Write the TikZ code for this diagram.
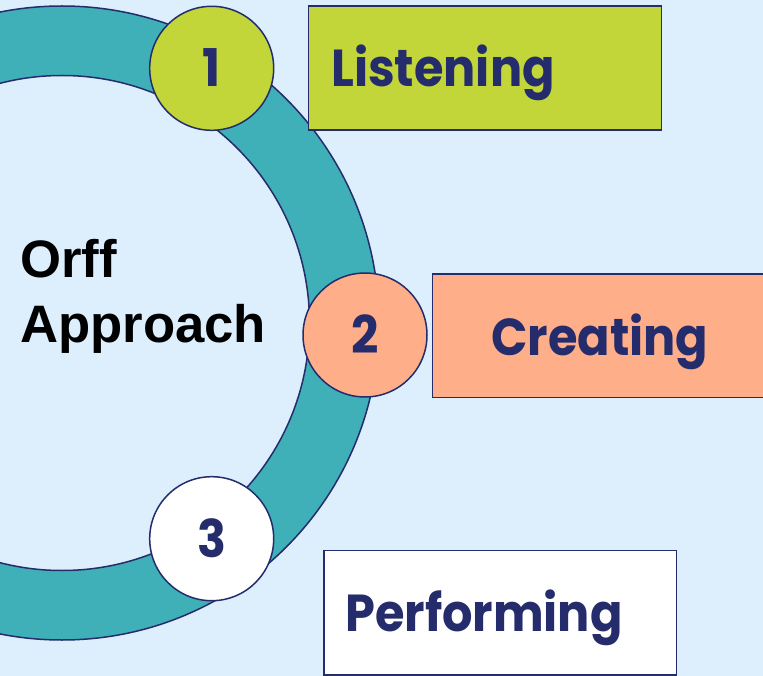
\documentclass[tikz,border=0pt]{standalone}
\usepackage{fontspec}
\newfontfamily\popfont{Poppins}
\newfontfamily\popnarrow{Poppins}[FakeStretch=0.92]
\newfontfamily\libfont{Liberation Sans}
\definecolor{bgblue}{HTML}{DDEEFD}
\definecolor{ringteal}{HTML}{40B0B8}
\definecolor{navy}{HTML}{252C6C}
\definecolor{lime}{HTML}{C2D63A}
\definecolor{salmon}{HTML}{FFAE8A}
\begin{document}
\begin{tikzpicture}[x=1pt,y=-1pt,
  stepcircle/.style={circle,draw=navy,line width=1.5pt,minimum size=124pt,inner sep=0pt},
  stepbox/.style={draw=navy,line width=1.5pt},
  numtext/.style={font=\popnarrow\bfseries\fontsize{52}{52}\selectfont,text=navy,inner sep=0pt,anchor=base},
  labtext/.style={font=\popnarrow\bfseries\fontsize{52}{52}\selectfont,text=navy,inner sep=0pt,anchor=base west},
  titletext/.style={font=\libfont\bfseries\fontsize{52.7}{52.7}\selectfont,text=black,inner sep=0pt,anchor=base west}]
\useasboundingbox (0,0) rectangle (763,676);
\clip (0,0) rectangle (763,676);
\fill[bgblue] (0,0) rectangle (763,676);
% ring
\fill[ringteal,even odd rule] (62,323) circle[radius=317pt] (62,323) circle[radius=247.5pt];
\draw[navy,line width=1.5pt] (62,323) circle[radius=317pt];
\draw[navy,line width=1.5pt] (62,323) circle[radius=247.5pt];
% boxes
\draw[stepbox,fill=lime] (308.3,6) rectangle (661.7,130);
\draw[stepbox,fill=salmon] (432.3,274) rectangle (780,397.3);
\draw[stepbox,fill=white] (324,550.7) rectangle (676.7,675);
% circles
\node[stepcircle,fill=lime] (c1) at (211.7,68.3) {};
\node[stepcircle,fill=salmon] (c2) at (365,335) {};
\node[stepcircle,fill=white] (c3) at (211.7,538.7) {};
\node[numtext] (n1) at (211.7,86.7) {1};
\node[numtext] (n2) at (365,353) {2};
\node[numtext] (n3) at (211.7,557) {3};
% labels
\node[labtext] (l1) at (331,87) {Listening};
\node[labtext] (l2) at (491,355) {Creating};
\node[labtext] (l3) at (345,631) {Performing};
% title
\node[titletext] (t1) at (20,278) {Orff};
\node[titletext] (t2) at (20,342) {Approach};
\end{tikzpicture}
\end{document}
